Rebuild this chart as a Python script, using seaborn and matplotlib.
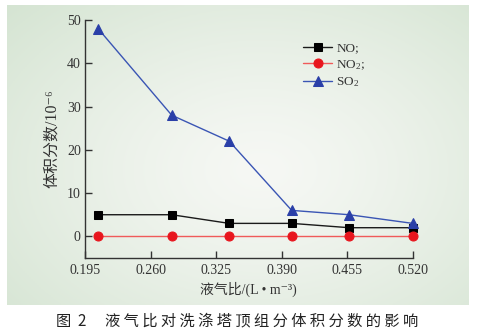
import numpy as np
import pandas as pd
import matplotlib
matplotlib.use("Agg")
import matplotlib.pyplot as plt
import seaborn as sns

# ---- data ----
ratio = [0.208, 0.281, 0.338, 0.400, 0.457, 0.520]
no_vals = [5, 5, 3, 3, 2, 2]
no2_vals = [0, 0, 0, 0, 0, 0]
so2_vals = [48, 28, 22, 6, 5, 3]
series_names = ["NO;", "NO$_2$;", "SO$_2$"]
x_ticks = [0.195, 0.260, 0.325, 0.390, 0.455, 0.520]
x_ticklabels = ["0.195", "0.260", "0.325", "0.390", "0.455", "0.520"]
y_ticks = [0, 10, 20, 30, 40, 50]

sns.set_theme(style="ticks")
plt.rcParams['font.family'] = ['Liberation Serif', 'Noto Sans CJK SC', 'DejaVu Sans']
plt.rcParams['mathtext.fontset'] = 'custom'
plt.rcParams['mathtext.rm'] = 'Liberation Serif'
plt.rcParams['mathtext.it'] = 'Liberation Serif:italic'

W, H = 478, 334
fig = plt.figure(figsize=(W / 100, H / 100), dpi=100)
fig.patch.set_facecolor("white")

# background panel with soft gradient
bg = fig.add_axes([7 / W, 1 - 305 / H, 462 / W, 300 / H])
ny, nx = 150, 230
yy, xx = np.mgrid[0:1:ny * 1j, 0:1:nx * 1j]
d = np.sqrt(((xx - 0.55) / 0.75) ** 2 + ((yy - 0.45) / 0.8) ** 2)
d = np.clip(d, 0, 1) ** 1.3
c_center = np.array([0.965, 0.972, 0.958])
c_edge = np.array([0.835, 0.895, 0.825])
img = c_center[None, None, :] * (1 - d[..., None]) + c_edge[None, None, :] * d[..., None]
bg.imshow(img, aspect="auto", extent=[0, 1, 0, 1], origin="lower")
bg.set_axis_off()

ax = fig.add_axes([85 / W, 1 - 258 / H, (412.7 - 85) / W, (258 - 20) / H])
ax.patch.set_alpha(0)

df = pd.DataFrame({
    "x": ratio * 3,
    "y": no_vals + no2_vals + so2_vals,
    "s": [series_names[0]] * 6 + [series_names[1]] * 6 + [series_names[2]] * 6,
})
line_colors = {series_names[0]: "#1a1a1a", series_names[1]: "#f05a5a", series_names[2]: "#3a55b4"}
marker_colors = {series_names[0]: "#000000", series_names[1]: "#e8161e", series_names[2]: "#2a3fa8"}
markers = {series_names[0]: "s", series_names[1]: "o", series_names[2]: "^"}
msizes = {series_names[0]: 5.5, series_names[1]: 6.5, series_names[2]: 7}

for name in series_names:
    sub = df[df["s"] == name]
    sns.lineplot(data=sub, x="x", y="y", ax=ax, color=line_colors[name], linewidth=1.0,
                 marker=markers[name], markersize=msizes[name],
                 markerfacecolor=marker_colors[name], markeredgecolor=marker_colors[name],
                 label=name, clip_on=False, zorder=3)

ax.set_xlim(0.195, 0.520)
ax.set_ylim(-5, 50)
ax.set_xticks(x_ticks)
ax.set_xticklabels(x_ticklabels)
ax.set_yticks(y_ticks)
for s in ["top", "right"]:
    ax.spines[s].set_visible(False)
for s in ["left", "bottom"]:
    ax.spines[s].set_color("#333333")
    ax.spines[s].set_linewidth(1.0)
ax.spines["left"].set_bounds(-5, 50)
ax.tick_params(axis="both", direction="in", length=5, width=1.0, color="#333333",
               labelsize=10, labelcolor="#333333", pad=4)
ax.tick_params(axis="y", pad=3)

lab_fam = ['Liberation Serif', 'Noto Sans CJK SC', 'DejaVu Sans']
ax.set_xlabel("液气比/(L • m⁻³)", fontsize=10, color="#333333", labelpad=4, family=lab_fam)
ax.set_ylabel("体积分数/10⁻⁶", fontsize=11.5, color="#333333", labelpad=5, family=lab_fam)

leg = ax.legend(loc="upper left", bbox_to_anchor=(0.65, 0.93), frameon=False,
                fontsize=9.5, handlelength=2.2, handletextpad=0.3, labelspacing=0.3,
                borderaxespad=0)
for t in leg.get_texts():
    t.set_color("#333333")

cap = "图  2\u3000 " + " ".join("液气比对洗涤塔顶组分体积分数的影响")
fig.text(0.497, 1 - 321 / H, cap, ha="center", va="center", fontsize=11,
         family=['Noto Sans CJK SC', 'DejaVu Sans'], color="#222222", weight="medium")

fig.savefig("out.png", dpi=100)
